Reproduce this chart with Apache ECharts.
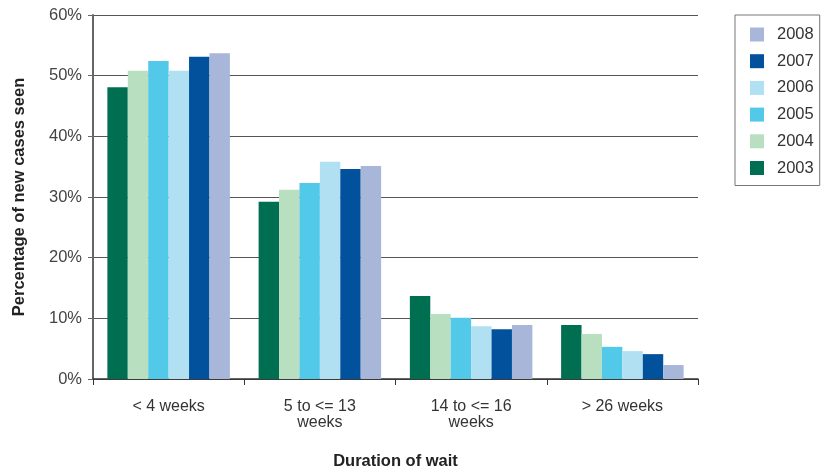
<!DOCTYPE html>
<html>
<head>
<meta charset="utf-8">
<script src="https://cdn.jsdelivr.net/npm/echarts@6/dist/echarts.min.js"></script>
<style>html,body{margin:0;padding:0;background:#fff}#c{width:824px;height:470px}</style>
</head>
<body>
<div id="c"></div>
<script>
const categories = ['< 4 weeks', '5 to <= 13\nweeks', '14 to <= 16\nweeks', '> 26 weeks'];
const years = ['2003', '2004', '2005', '2006', '2007', '2008'];
const v2003 = [48.1, 29.2, 13.7, 8.9];
const v2004 = [50.8, 31.2, 10.7, 7.4];
const v2005 = [52.4, 32.3, 10.1, 5.3];
const v2006 = [50.8, 35.8, 8.7, 4.6];
const v2007 = [53.1, 34.6, 8.2, 4.1];
const v2008 = [53.7, 35.1, 8.9, 2.3];
const yTicks = [0, 10, 20, 30, 40, 50, 60];
const colors = ['#006f51', '#b7dfc0', '#52c9e8', '#b0e0f2', '#02519c', '#a8b6da'];
const values = [v2003, v2004, v2005, v2006, v2007, v2008];

const chart = echarts.init(document.getElementById('c'), null, {renderer: 'canvas'});
const font = 'Liberation Sans, Arial, Helvetica, sans-serif';
chart.setOption({
  animation: false,
  textStyle: {fontFamily: font},
  grid: {left: 93, right: 126, top: 15, bottom: 91, containLabel: false, outerBoundsMode: 'none'},
  legend: {
    orient: 'vertical',
    left: 735, top: 15,
    data: years.slice().reverse(),
    itemWidth: 14, itemHeight: 14, itemGap: 9.7,
    icon: 'rect',
    borderColor: '#777', borderWidth: 1,
    padding: [11, 6, 9, 15],
    textStyle: {fontSize: 16.5, color: '#333', fontFamily: font, padding: [0, 0, 0, 8]}
  },
  xAxis: {
    type: 'category',
    data: categories,
    name: 'Duration of wait',
    nameLocation: 'middle', nameGap: 74,
    nameTextStyle: {fontWeight: 'bold', fontSize: 16.5, color: '#222'},
    axisLine: {lineStyle: {color: '#333', width: 1.5}},
    axisTick: {show: true, length: 6, lineStyle: {color: '#333'}},
    axisLabel: {fontSize: 16, color: '#333', margin: 20, lineHeight: 16}
  },
  yAxis: {
    type: 'value', min: yTicks[0], max: yTicks[yTicks.length - 1], interval: 10,
    name: 'Percentage of new cases seen',
    nameLocation: 'middle', nameGap: 65,
    nameTextStyle: {fontWeight: 'bold', fontSize: 16.5, color: '#222'},
    axisLine: {show: true, lineStyle: {color: '#666', width: 2}},
    axisTick: {show: true, length: 5, lineStyle: {color: '#666'}},
    axisLabel: {formatter: '{value}%', fontSize: 16.5, color: '#444', margin: 11},
    splitLine: {lineStyle: {color: '#555', width: 1.2}}
  },
  series: years.map((y, i) => ({
    name: y, type: 'bar', data: values[i],
    itemStyle: {color: colors[i]},
    barGap: '0%', barCategoryGap: '19%'
  }))
});
</script>
</body>
</html>
